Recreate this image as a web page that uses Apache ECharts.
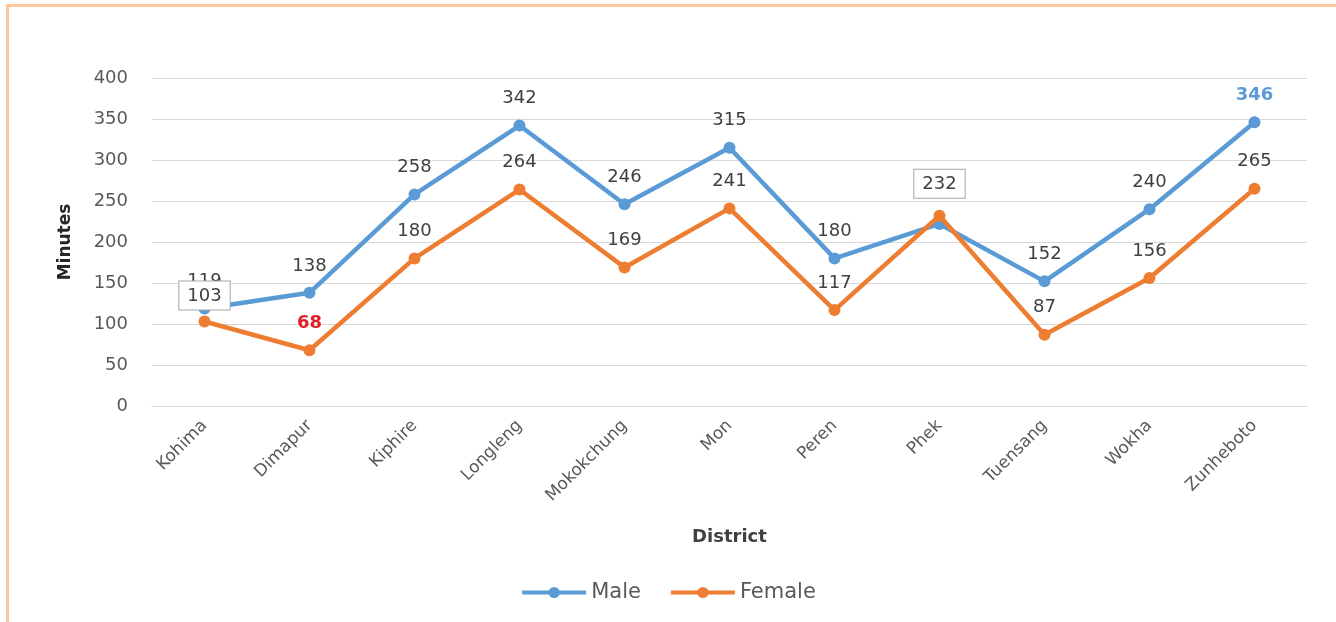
<!DOCTYPE html>
<html>
<head>
<meta charset="utf-8">
<script src="https://cdn.jsdelivr.net/npm/echarts@6/dist/echarts.min.js"></script>
<style>
  html, body { margin: 0; padding: 0; background: #fff; }
  #frame { position: absolute; left: 6px; top: 4px; width: 1330px; height: 618px;
           border-top: 3px solid #FFC79A; border-left: 3px solid #FFC79A; box-sizing: border-box; }
  #chart { position: absolute; left: 0; top: 0; width: 1336px; height: 622px; }
</style>
</head>
<body>
<div id="frame"></div>
<div id="chart"></div>
<script>
const districts = ['Kohima', 'Dimapur', 'Kiphire', 'Longleng', 'Mokokchung', 'Mon', 'Peren', 'Phek', 'Tuensang', 'Wokha', 'Zunheboto'];
const maleMinutes = [119, 138, 258, 342, 246, 315, 180, 222, 152, 240, 346];
const femaleMinutes = [103, 68, 180, 264, 169, 241, 117, 232, 87, 156, 265];
const yTicks = [0, 50, 100, 150, 200, 250, 300, 350, 400];

const FONT = 'DejaVu Sans';
const MALE = '#5B9BD5';
const FEMALE = '#ED7D31';
const LABEL = { show: true, position: 'top', distance: 12, color: '#404040', fontSize: 18, fontFamily: FONT };
const BOXED = { backgroundColor: '#fff', borderColor: '#A6A6A6', borderWidth: 1, padding: [6, 8, 4, 8] };

// per-point label tweaks
function maleData() {
  return maleMinutes.map((v, i) => {
    const d = { value: v };
    if (districts[i] === 'Phek') d.label = { show: false };
    if (districts[i] === 'Zunheboto') d.label = { color: '#5B9BD5', fontWeight: 'bold' };
    return d;
  });
}
function femaleData() {
  return femaleMinutes.map((v, i) => {
    const d = { value: v };
    if (districts[i] === 'Kohima') d.label = Object.assign({ distance: 6 }, BOXED);
    if (districts[i] === 'Phek') d.label = Object.assign({ distance: 12 }, BOXED);
    if (districts[i] === 'Dimapur') d.label = { color: '#E0202A', fontWeight: 'bold' };
    return d;
  });
}

const chart = echarts.init(document.getElementById('chart'));
chart.setOption({
  animation: false,
  textStyle: { fontFamily: FONT },
  grid: { left: 152, top: 78, width: 1155, height: 328 },
  legend: {
    bottom: 14, left: 'center', itemWidth: 64, itemHeight: 14, itemGap: 28,
    lineStyle: { width: 4 },
    textStyle: { color: '#595959', fontSize: 21, fontFamily: FONT },
    data: ['Male', 'Female']
  },
  xAxis: {
    type: 'category', data: districts, boundaryGap: true,
    name: 'District', nameLocation: 'middle', nameGap: 122,
    nameTextStyle: { color: '#404040', fontSize: 18, fontWeight: 'bold', fontFamily: FONT },
    axisLine: { lineStyle: { color: '#D9D9D9' } },
    axisTick: { show: false },
    axisLabel: { rotate: 45, color: '#595959', fontSize: 17, fontFamily: FONT, margin: 17 }
  },
  yAxis: {
    type: 'value', min: yTicks[0], max: yTicks[yTicks.length - 1], interval: 50,
    name: 'Minutes', nameLocation: 'middle', nameGap: 78, nameRotate: 90,
    nameTextStyle: { color: '#262626', fontSize: 17, fontWeight: 'bold', fontFamily: FONT },
    axisLabel: { color: '#595959', fontSize: 18, fontFamily: FONT, margin: 24 },
    splitLine: { lineStyle: { color: '#D9D9D9' } }
  },
  series: [
    {
      name: 'Male', type: 'line', data: maleData(), z: 2,
      symbol: 'circle', symbolSize: 12,
      itemStyle: { color: MALE }, lineStyle: { color: MALE, width: 4.5 },
      label: Object.assign({}, LABEL)
    },
    {
      name: 'Female', type: 'line', data: femaleData(), z: 3,
      symbol: 'circle', symbolSize: 12,
      itemStyle: { color: FEMALE }, lineStyle: { color: FEMALE, width: 4.5 },
      label: Object.assign({}, LABEL)
    }
  ]
});
</script>
</body>
</html>
